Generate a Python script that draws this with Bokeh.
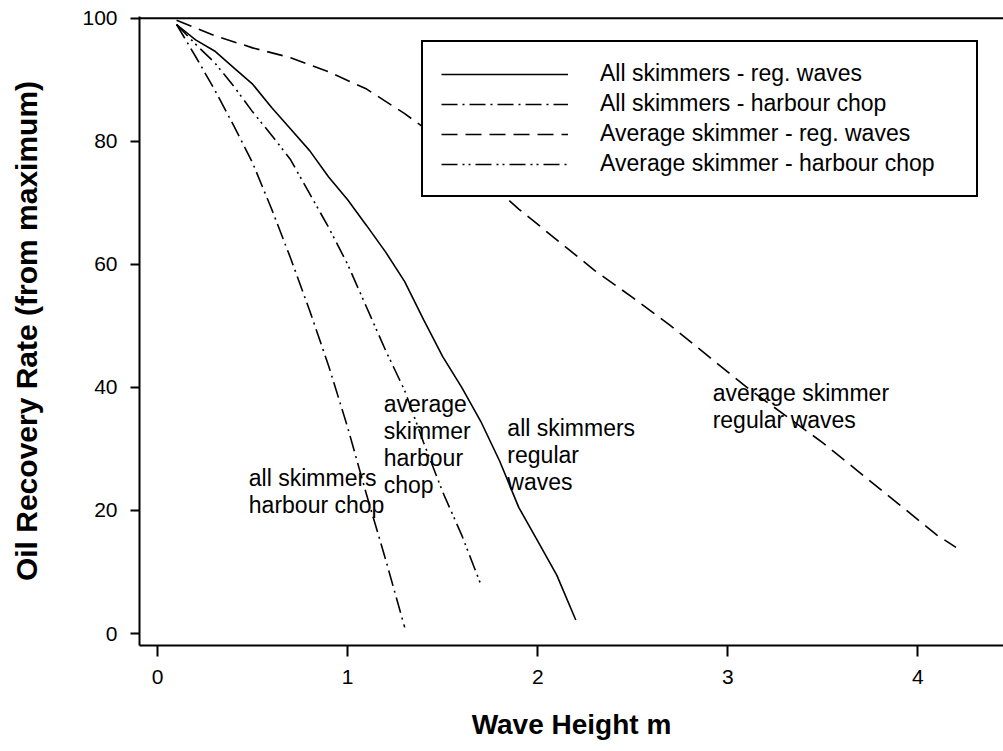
from bokeh.plotting import figure
from bokeh.models import Range1d, FixedTicker, Span, Legend, LegendItem, ColumnDataSource
from bokeh.core.properties import value
from bokeh.embed import file_html
from bokeh.resources import INLINE

# ---- data ----
x_ticks = [0, 1, 2, 3, 4]
y_ticks = [0, 20, 40, 60, 80, 100]

all_reg_x = [0.1, 0.2, 0.3, 0.4, 0.5, 0.6, 0.7, 0.8, 0.9, 1.0, 1.1, 1.2, 1.3, 1.4, 1.5,
             1.6, 1.7, 1.8, 1.9, 2.0, 2.1, 2.2]
all_reg_y = [99, 96.5, 94.7, 92, 89.3, 85.5, 82, 78.5, 74.2, 70.5, 66.3, 62, 57.2, 51, 45,
             40, 34.5, 28, 20.5, 15, 9.5, 2.2]

all_chop_x = [0.1, 0.2, 0.3, 0.4, 0.5, 0.6, 0.7, 0.8, 0.9, 1.0, 1.1, 1.2, 1.3]
all_chop_y = [99, 93.8, 88.4, 82.6, 76.5, 69, 61, 52.5, 43.5, 33.5, 22.5, 12, 1]

avg_reg_x = [0.1, 0.3, 0.5, 0.7, 0.9, 1.1, 1.3, 1.5, 1.7, 1.9, 2.1, 2.3, 2.5, 2.7, 2.9,
             3.1, 3.3, 3.5, 3.7, 3.9, 4.1, 4.2]
avg_reg_y = [99.7, 97.2, 95.2, 93.6, 91.3, 88.5, 84.5, 80, 74.5, 69, 64, 59, 54.6, 50, 45,
             40, 35.5, 31, 26, 21, 16, 14]

avg_chop_x = [0.1, 0.2, 0.3, 0.4, 0.5, 0.6, 0.7, 0.8, 0.9, 1.0, 1.1, 1.2, 1.3, 1.4, 1.5,
              1.6, 1.7]
avg_chop_y = [99, 95.8, 92.8, 89, 84.8, 81, 77, 71.5, 66, 60, 53, 46, 39.5, 31, 23, 16, 8]

series_names = ["All skimmers - reg. waves", "All skimmers - harbour chop",
                "Average skimmer - reg. waves", "Average skimmer - harbour chop"]

note_texts = ["all skimmers\nharbour chop", "average\nskimmer\nharbour\nchop",
              "all skimmers\nregular\nwaves", "average skimmer\nregular waves"]

# ---- annotation positions (data units, top-left anchor) ----
note_x = [0.48, 1.19, 1.84, 2.92]
note_y = [27.4, 39.4, 35.6, 41.2]

FONT = "Liberation Sans"

p = figure(width=1003, height=751, output_backend="svg", toolbar_location=None,
           x_range=Range1d(-0.095, 4.45), y_range=Range1d(-1.95, 100.3),
           min_border_left=139, min_border_right=0, min_border_top=16, min_border_bottom=106)

p.outline_line_color = None
p.xgrid.visible = False
p.ygrid.visible = False
p.background_fill_color = "white"
p.border_fill_color = "white"

r1 = p.line(all_reg_x, all_reg_y, line_color="black", line_width=1.6)
r2 = p.line(all_chop_x, all_chop_y, line_color="black", line_width=1.6, line_dash="16 5 2 5")
r3 = p.line(avg_reg_x, avg_reg_y, line_color="black", line_width=1.6, line_dash="16 8")
r4 = p.line(avg_chop_x, avg_chop_y, line_color="black", line_width=1.6, line_dash="16 5 2 4 2 5")

src = ColumnDataSource(dict(x=note_x, y=note_y, t=note_texts))
p.text(x="x", y="y", text="t", source=src, text_font=value(FONT), text_font_size="23px",
       text_align="left", text_baseline="top", text_line_height=1.04, text_color="black")

top_line = Span(location=100, dimension="width", line_color="black", line_width=2)
p.add_layout(top_line)

for ax in (p.xaxis[0], p.yaxis[0]):
    ax.axis_line_width = 2
    ax.axis_line_color = "black"
    ax.major_tick_line_width = 2
    ax.major_tick_line_color = "black"
    ax.major_tick_in = 0
    ax.minor_tick_line_color = None
    ax.major_label_text_font = FONT
    ax.major_label_text_font_size = "21px"
    ax.major_label_text_color = "black"
    ax.axis_label_text_font = FONT
    ax.axis_label_text_font_style = "bold"
    ax.axis_label_text_color = "black"

p.xaxis.ticker = FixedTicker(ticks=x_ticks)
p.yaxis.ticker = FixedTicker(ticks=y_ticks)
p.xaxis.major_tick_out = 11
p.yaxis.major_tick_out = 9
p.xaxis.major_label_standoff = 13
p.yaxis.major_label_standoff = 13
p.xaxis.axis_label = "Wave Height m"
p.yaxis.axis_label = "Oil Recovery Rate (from maximum)"
p.xaxis.axis_label_text_font_size = "28px"
p.yaxis.axis_label_text_font_size = "30px"
p.xaxis.axis_label_standoff = 22
p.yaxis.axis_label_standoff = 36

legend = Legend(items=[LegendItem(label=series_names[0], renderers=[r1]),
                       LegendItem(label=series_names[1], renderers=[r2]),
                       LegendItem(label=series_names[2], renderers=[r3]),
                       LegendItem(label=series_names[3], renderers=[r4])],
                location=(282, 448))
legend.border_line_color = "black"
legend.border_line_alpha = 1.0
legend.border_line_width = 2
legend.background_fill_color = "white"
legend.background_fill_alpha = 1
legend.margin = 0
legend.padding = 18
legend.spacing = 3
legend.glyph_width = 127
legend.glyph_height = 24
legend.label_height = 24
legend.label_width = 358
legend.label_standoff = 32
legend.label_text_font = FONT
legend.label_text_font_size = "23px"
legend.label_text_color = "black"
p.add_layout(legend)

open("out.html", "w").write(file_html(p, INLINE))
